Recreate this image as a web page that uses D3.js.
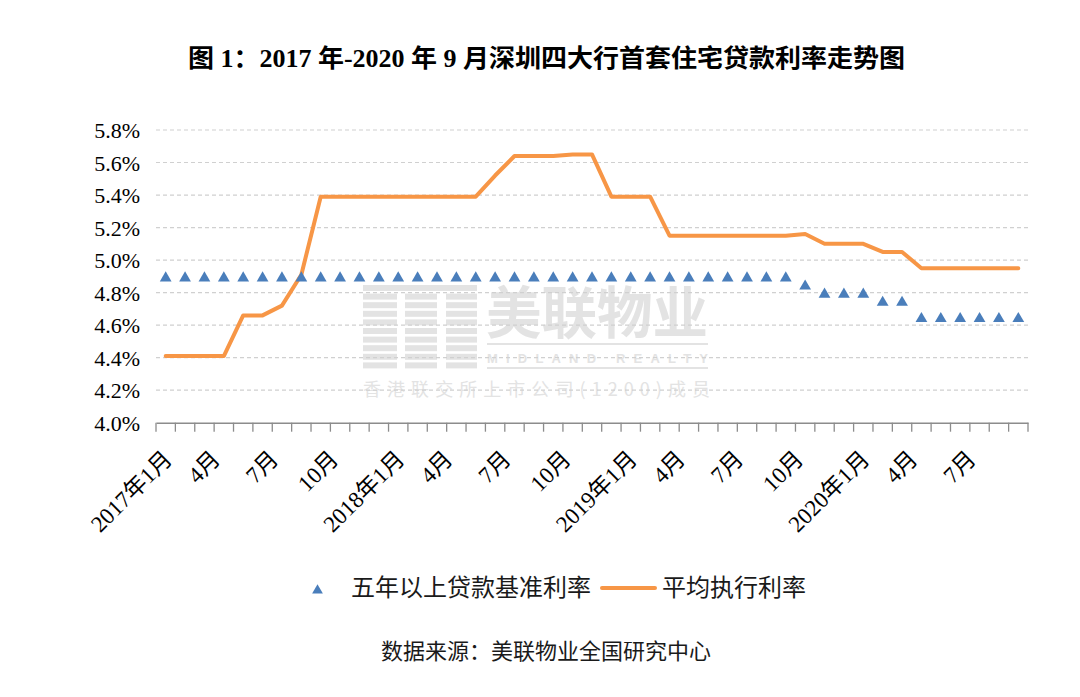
<!DOCTYPE html>
<html>
<head>
<meta charset="utf-8">
<script src="https://cdn.jsdelivr.net/npm/d3@7"></script>
<style>
  html, body { margin: 0; padding: 0; background: #ffffff; }
  svg { display: block; }
</style>
</head>
<body>
<svg id="chart" width="1080" height="697"></svg>
<script>
// ---------------- data ----------------
const categories = [
  "2017年1月","2月","3月","4月","5月","6月","7月","8月","9月","10月","11月","12月",
  "2018年1月","2月","3月","4月","5月","6月","7月","8月","9月","10月","11月","12月",
  "2019年1月","2月","3月","4月","5月","6月","7月","8月","9月","10月","11月","12月",
  "2020年1月","2月","3月","4月","5月","6月","7月","8月","9月"
];
// 五年以上贷款基准利率 (%)
const benchmarkRate = [
  4.90,4.90,4.90,4.90,4.90,4.90,4.90,4.90,4.90,4.90,4.90,4.90,
  4.90,4.90,4.90,4.90,4.90,4.90,4.90,4.90,4.90,4.90,4.90,4.90,
  4.90,4.90,4.90,4.90,4.90,4.90,4.90,4.90,4.90,4.85,4.80,4.80,
  4.80,4.75,4.75,4.65,4.65,4.65,4.65,4.65,4.65
];
// 平均执行利率 (%)
const averageRate = [
  4.41,4.41,4.41,4.41,4.66,4.66,4.72,4.91,5.39,5.39,5.39,5.39,
  5.39,5.39,5.39,5.39,5.39,5.52,5.64,5.64,5.64,5.65,5.65,5.39,
  5.39,5.39,5.15,5.15,5.15,5.15,5.15,5.15,5.15,5.16,5.10,5.10,
  5.10,5.05,5.05,4.95,4.95,4.95,4.95,4.95,4.95
];
const yTicks = [4.0,4.2,4.4,4.6,4.8,5.0,5.2,5.4,5.6,5.8];
const tickLabelStep = 3;
const seriesNames = ["五年以上贷款基准利率", "平均执行利率"];
const titleText = "图 1：2017 年-2020 年 9 月深圳四大行首套住宅贷款利率走势图";
const sourceText = "数据来源：美联物业全国研究中心";

// ---------------- layout ----------------
const svg = d3.select("#chart");
const plot = { left: 156, right: 1028, top: 130, bottom: 422.7 };
const blue = "#4a7ebb", orange = "#f79646";
const serif = "'Liberation Serif','Noto Sans CJK SC',serif";
const cjk = "'Noto Sans CJK SC','Noto Sans',sans-serif";

const idx = d3.range(categories.length);
const x = d3.scaleBand().domain(idx).range([plot.left, plot.right]).padding(0);
const y = d3.scaleLinear().domain([4.0, 5.8]).range([plot.bottom, plot.top]);
const cx = i => x(i) + x.bandwidth() / 2;

// title
svg.append("text")
  .attr("x", 188).attr("y", 67)
  .attr("textLength", 717).attr("lengthAdjust", "spacingAndGlyphs")
  .style("font-family", serif).style("font-weight", "bold").style("font-size", "25px")
  .style("fill", "#000")
  .text(titleText);

// ---------------- watermark ----------------
const wm = svg.append("g").attr("class", "watermark");
const wmColor = "#e3e3e3";
const stripeRows = d3.range(10);
const cols = [[363, 397], [405, 437], [446, 477]];
cols.forEach(c => {
  stripeRows.forEach(r => {
    wm.append("rect")
      .attr("x", c[0]).attr("y", 285 + r * 8.6)
      .attr("width", c[1] - c[0]).attr("height", 6)
      .attr("fill", wmColor);
  });
});
wm.append("rect").attr("x", 363).attr("y", 285).attr("width", 114).attr("height", 6).attr("fill", wmColor);
wm.append("text")
  .attr("x", 486).attr("y", 333)
  .attr("textLength", 222).attr("lengthAdjust", "spacingAndGlyphs")
  .style("font-family", cjk).style("font-weight", "bold").style("font-size", "56px")
  .style("fill", wmColor).text("美联物业");
wm.append("rect").attr("x", 487).attr("y", 343).attr("width", 221).attr("height", 2).attr("fill", wmColor);
wm.append("text")
  .attr("x", 487).attr("y", 363)
  .attr("textLength", 221).attr("lengthAdjust", "spacing")
  .style("font-family", "'Liberation Sans',sans-serif").style("font-weight", "bold").style("font-size", "13px")
  .style("fill", wmColor).text("MIDLAND REALTY");
wm.append("rect").attr("x", 487).attr("y", 367).attr("width", 221).attr("height", 2).attr("fill", wmColor);
wm.append("text")
  .attr("x", 363).attr("y", 396)
  .attr("textLength", 347).attr("lengthAdjust", "spacing")
  .style("font-family", cjk).style("font-size", "18px")
  .style("fill", wmColor).text("香港联交所上市公司(1200)成员");

// ---------------- gridlines ----------------
svg.append("g")
  .selectAll("line")
  .data(yTicks.filter(t => t > 4.0))
  .join("line")
  .attr("x1", plot.left).attr("x2", plot.right)
  .attr("y1", d => y(d)).attr("y2", d => y(d))
  .attr("stroke", "#d0d0d0").attr("stroke-width", 1.2)
  .attr("stroke-dasharray", "4,3");

// y axis labels
const yAxis = d3.axisLeft(y).tickValues(yTicks).tickSize(0).tickPadding(0)
  .tickFormat(d => d3.format(".1f")(d) + "%");
const gy = svg.append("g").attr("transform", `translate(140,0)`).call(yAxis);
gy.select(".domain").remove();
gy.selectAll("text")
  .style("font-family", serif).style("font-size", "22px").style("fill", "#000")
  .attr("dy", "0.35em");

// x axis
const xAxis = d3.axisBottom(x).tickSize(0).tickFormat("");
const gx = svg.append("g").attr("transform", `translate(0,${plot.bottom})`).call(xAxis);
gx.select(".domain").attr("stroke", "#8c8c8c").attr("stroke-width", 1.5);
gx.selectAll(".tick").remove();
const tickBounds = idx.map(i => x(i)).concat([plot.right]);
gx.append("g").selectAll("line").data(tickBounds).join("line")
  .attr("x1", d => d).attr("x2", d => d)
  .attr("y1", 0).attr("y2", 9)
  .attr("stroke", "#8c8c8c").attr("stroke-width", 1.3);
const labelIdx = idx.filter(i => i % tickLabelStep === 0);
gx.append("g").selectAll("text").data(labelIdx).join("text")
  .attr("transform", i => `translate(${cx(i) - 12 + 2 * categories[i].length},32) rotate(-45)`)
  .attr("text-anchor", "end")
  .attr("dy", "0.35em")
  .style("font-family", serif).style("font-size", "23px").style("fill", "#000")
  .text(i => categories[i]);

// ---------------- series ----------------
const line = d3.line()
  .x((d, i) => cx(i))
  .y(d => y(d));
svg.append("path")
  .datum(averageRate)
  .attr("d", line)
  .attr("fill", "none")
  .attr("stroke", orange).attr("stroke-width", 4)
  .attr("stroke-linejoin", "round").attr("stroke-linecap", "round");

const triSize = 60;
const triSide = Math.sqrt(triSize * 4 / Math.sqrt(3));
const triH = triSide * Math.sqrt(3) / 2;
const tri = d3.symbol().type(d3.symbolTriangle).size(triSize);
svg.append("g").selectAll("path")
  .data(benchmarkRate)
  .join("path")
  .attr("d", tri)
  .attr("transform", (d, i) => `translate(${cx(i)},${y(d) + triH / 6})`)
  .attr("fill", blue);

// ---------------- legend ----------------
const lg = svg.append("g");
lg.append("path").attr("d", d3.symbol().type(d3.symbolTriangle).size(50))
  .attr("transform", `translate(317.5,${589 + 1.5})`).attr("fill", blue);
lg.append("text").attr("x", 351).attr("y", 588).attr("dy", "0.35em")
  .style("font-family", cjk).style("font-size", "24px").style("fill", "#1a1a1a")
  .text(seriesNames[0]);
lg.append("line").attr("x1", 602).attr("x2", 655).attr("y1", 588).attr("y2", 588)
  .attr("stroke", orange).attr("stroke-width", 4).attr("stroke-linecap", "round");
lg.append("text").attr("x", 662).attr("y", 588).attr("dy", "0.35em")
  .style("font-family", cjk).style("font-size", "24px").style("fill", "#1a1a1a")
  .text(seriesNames[1]);

// source
svg.append("text").attr("x", 381).attr("y", 651).attr("dy", "0.35em")
  .style("font-family", cjk).style("font-size", "22px").style("fill", "#1a1a1a")
  .text(sourceText);
</script>
</body>
</html>
